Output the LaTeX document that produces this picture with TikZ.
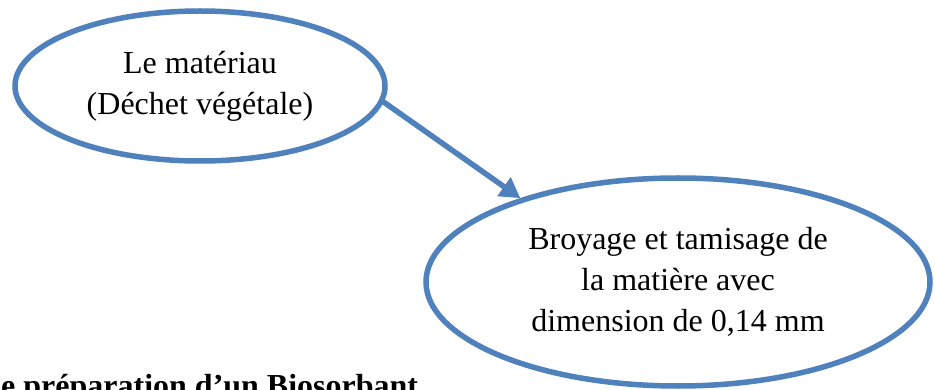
\documentclass[tikz,border=0pt]{standalone}
\usepackage{fontspec}
\setmainfont{Liberation Serif}
\usetikzlibrary{arrows.meta, positioning, shapes.geometric}
\definecolor{biosblue}{HTML}{4F81BD}

\tikzset{
  stepellipse/.style={ellipse, draw=biosblue, line width=5.5pt, fill=white,
                      align=center, inner sep=0pt,
                      font=\fontsize{32}{41}\selectfont},
  steparrow/.style={draw=biosblue, line width=5.5pt,
                    -{Triangle[length=20pt,width=22pt]}, shorten <=-1pt}
}

\begin{document}
\begin{tikzpicture}[x=1pt,y=-1pt]
\clip (0,0) rectangle (935,390);
\fill[white] (0,0) rectangle (935,390);

% etapes
\node[stepellipse,minimum width=370pt,minimum height=150pt] (materiau) at (200,86)
  {Le matériau\\(Déchet végétale)};
\node[stepellipse,minimum width=504pt,minimum height=208pt] (broyage) at (678,282)
  {Broyage et tamisage de\\la matière avec\\dimension de 0,14 mm};

% fleche
\draw[steparrow] (materiau.-5) -- (broyage.152);

% legende coupee
\node[anchor=base west,inner sep=0pt,font=\fontsize{32}{41}\selectfont\bfseries]
  (legende) at (1,396) {e préparation d’un Biosorbant};
\end{tikzpicture}
\end{document}
